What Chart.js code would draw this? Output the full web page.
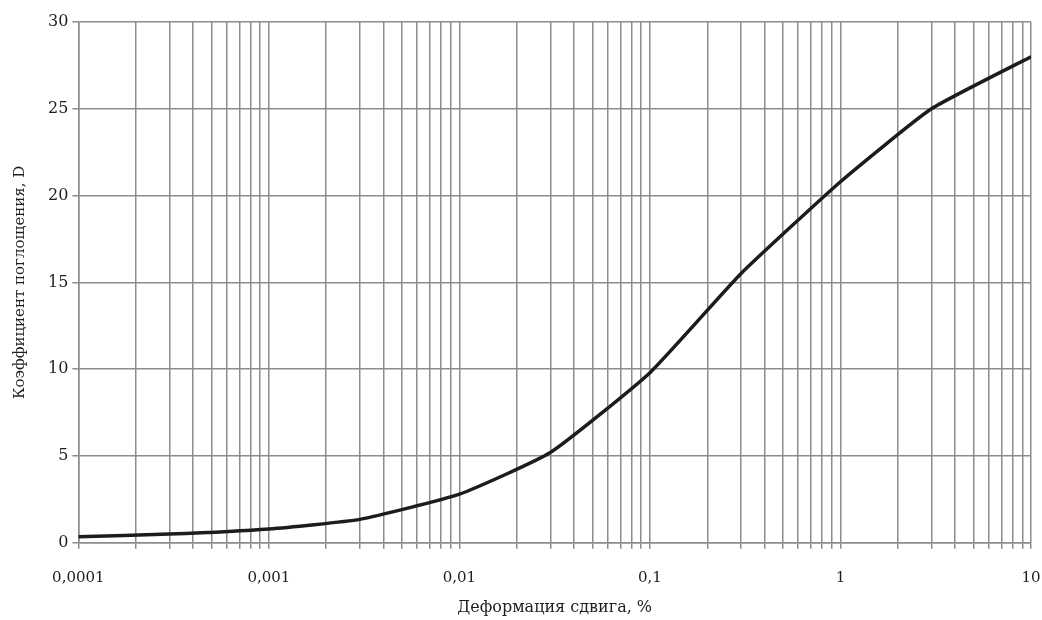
<!DOCTYPE html>
<html>
<head>
<meta charset="utf-8">
<script src="https://cdn.jsdelivr.net/npm/chart.js@4/dist/chart.umd.min.js"></script>
<style>
  body { margin: 0; background: #fff; }
  canvas { display: block; }
</style>
</head>
<body>
<canvas id="chart" width="1042" height="620"></canvas>
<script>
// deformation (%), log axis
var strain = [0.0001, 0.0003, 0.001, 0.003, 0.01, 0.03, 0.1, 0.3, 1, 3, 10];
// damping coefficient D
var damping = [0.35, 0.5, 0.8, 1.35, 2.8, 5.2, 9.8, 15.5, 20.8, 25, 28];
var xLabels = { 0.0001: '0,0001', 0.001: '0,001', 0.01: '0,01', 0.1: '0,1', 1: '1', 10: '10' };
var xTitle = 'Деформация сдвига, %';
var yTitle = 'Коэффициент поглощения, D';

var font = 'DejaVu Serif';
var textColor = '#1e1e1e';
var gridColor = '#8c8c8c';

var points = strain.map(function (x, i) { return { x: x, y: damping[i] }; });

var ctx = document.getElementById('chart').getContext('2d');
var chart = new Chart(ctx, {
    type: 'line',
    data: {
        datasets: [{
            data: points,
            borderColor: '#1c1c1c',
            borderWidth: 3.5,
            pointRadius: 0,
            tension: 0.15,
            fill: false
        }]
    },
    options: {
        responsive: false,
        animation: false,
        layout: { padding: { top: 22, right: 0, left: 11, bottom: -3 } },
        plugins: {
            legend: { display: false },
            tooltip: { enabled: false }
        },
        scales: {
            x: {
                type: 'logarithmic',
                min: 0.0001,
                max: 10,
                afterBuildTicks: function (axis) {
                    var ticks = [];
                    for (var e = -4; e <= 1; e++) {
                        for (var m = 1; m <= 9; m++) {
                            var v = parseFloat((m * Math.pow(10, e)).toPrecision(3));
                            if (v > 10) break;
                            ticks.push({ value: v });
                        }
                    }
                    axis.ticks = ticks;
                },
                afterFit: function (axis) {
                    axis.paddingRight = 11;
                    axis.height -= 9;
                },
                ticks: {
                    autoSkip: false,
                    maxRotation: 0,
                    padding: 20,
                    color: textColor,
                    font: { family: font, size: 15 },
                    callback: function (v) {
                        return xLabels[v] !== undefined ? xLabels[v] : '';
                    }
                },
                grid: { color: gridColor, lineWidth: 1.5, tickLength: 6 },
                border: { color: gridColor, width: 1.5 },
                title: {
                    display: true,
                    text: xTitle,
                    color: textColor,
                    font: { family: font, size: 16 },
                    padding: { top: 0, bottom: 6 }
                }
            },
            y: {
                min: 0,
                max: 30,
                ticks: {
                    stepSize: 5,
                    padding: 4,
                    color: textColor,
                    font: { family: font, size: 16 }
                },
                grid: { color: gridColor, lineWidth: 1.5, tickLength: 6 },
                border: { color: gridColor, width: 1.5 },
                title: {
                    display: true,
                    text: yTitle,
                    color: textColor,
                    font: { family: font, size: 15 },
                    padding: { top: 0, bottom: 15 }
                }
            }
        }
    }
});
</script>
</body>
</html>
